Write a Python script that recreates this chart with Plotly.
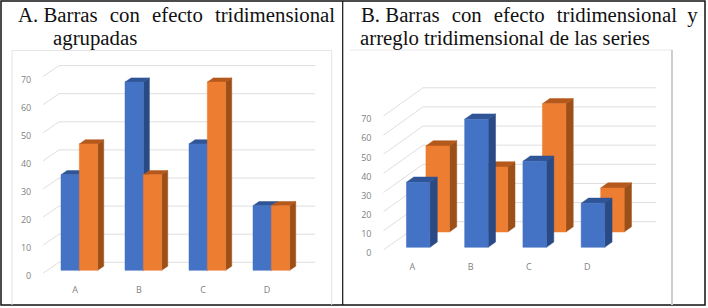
import plotly.graph_objects as go

W, H = 708, 308

categories = ["A", "B", "C", "D"]
ticks = [0, 10, 20, 30, 40, 50, 60, 70]
serie1 = [34, 67, 45, 23]
serie2 = [45, 34, 67, 23]

BLUE = ("#4472C4", "#2F5597", "#2A4A85")
ORANGE = ("#ED7D31", "#B4581C", "#9C5018")
GRID = "#DEDEDE"
TICKC = "#7F7F7F"

fig = go.Figure()


def polygons(vals, cat_off, width, d0, d1, dxc, dyv):
    """Front, top and side faces, in axis units, of one series of oblique bars."""
    fx, fy, tx, ty, sx, sy = [], [], [], [], [], []
    for i, v in enumerate(vals):
        l = i + cat_off
        r = l + width
        p = lambda x, d, h: (x + d * dxc, h + d * dyv)
        for xs, ys, pts in (
            (fx, fy, [p(l, d0, 0), p(r, d0, 0), p(r, d0, v), p(l, d0, v)]),
            (tx, ty, [p(l, d0, v), p(r, d0, v), p(r, d1, v), p(l, d1, v)]),
            (sx, sy, [p(r, d0, 0), p(r, d1, 0), p(r, d1, v), p(r, d0, v)]),
        ):
            for a, b in pts + [pts[0]]:
                xs.append(a)
                ys.append(b)
            xs.append(None)
            ys.append(None)
    return (fx, fy), (tx, ty), (sx, sy)


def add_bars(ax, vals, colors, **kw):
    faces = polygons(vals, **kw)
    for (xs, ys), c in zip((faces[2], faces[1], faces[0]), (colors[2], colors[1], colors[0])):
        fig.add_trace(go.Scatter(x=xs, y=ys, mode="lines", fill="toself", fillcolor=c,
                                 line=dict(width=0.5, color=c), hoverinfo="skip",
                                 showlegend=False, cliponaxis=False,
                                 xaxis="x" + ax, yaxis="y" + ax))


def add_grid(ax, dxc, dyv, n):
    xs, ys = [], []
    for t in ticks:
        xs += [-0.5, -0.5 + dxc, n - 0.5 + dxc, None]
        ys += [t, t + dyv, t + dyv, None]
    fig.add_trace(go.Scatter(x=xs, y=ys, mode="lines", line=dict(width=1, color=GRID),
                             hoverinfo="skip", showlegend=False, cliponaxis=False,
                             xaxis="x" + ax, yaxis="y" + ax))


def axes(ax, left, right, bottom, top, xrange, yrange, ylen, xlen):
    font = dict(family="Open Sans, Liberation Sans", size=9, color=TICKC)
    fig.layout["xaxis" + ax] = dict(
        domain=[left / W, right / W], range=xrange, tickvals=list(range(len(categories))),
        ticktext=categories, showgrid=False, zeroline=False, showline=False, ticks="outside",
        tickcolor="rgba(0,0,0,0)", ticklen=xlen, tickfont=font, anchor="y" + ax, automargin=False)
    fig.layout["yaxis" + ax] = dict(
        domain=[1 - bottom / H, 1 - top / H], range=yrange, tickvals=ticks, showgrid=False,
        zeroline=False, showline=False, ticks="outside", tickcolor="rgba(0,0,0,0)",
        ticklen=ylen, tickfont=font, anchor="x" + ax, automargin=False, ticklabelshift=3)


# Panel A ---------------------------------------------------------------
a_ppu, a_slot = 2.81, 64
a_dxc, a_dyv = 16 / a_slot, 11 / a_ppu
a_top = 60
axes("", 43, 315, 273.3, a_top, [-0.5, 3.5 + a_dxc], [0, (273.3 - a_top) / a_ppu], 9, 8)
add_grid("", a_dxc, a_dyv, len(categories))
bw = 18.33 / a_slot
add_bars("", serie1, BLUE, cat_off=-bw, width=bw, d0=0.27, d1=0.65, dxc=a_dxc, dyv=a_dyv)
add_bars("", serie2, ORANGE, cat_off=0, width=bw, d0=0.27, d1=0.65, dxc=a_dxc, dyv=a_dyv)

# Panel B ---------------------------------------------------------------
b_ppu, b_slot = 1.913, 58.25
b_dxc, b_dyv = 39.7 / b_slot, 28.3 / b_ppu
b_top = 80
axes("2", 383.3, 656, 250, b_top, [-0.5, 3.5 + b_dxc], [0, (250 - b_top) / b_ppu], 9, 8)
add_grid("2", b_dxc, b_dyv, len(categories))
bw2 = 23.5 / b_slot
add_bars("2", serie2, ORANGE, cat_off=-bw2 / 2, width=bw2, d0=0.636, d1=0.82, dxc=b_dxc, dyv=b_dyv)
add_bars("2", serie1, BLUE, cat_off=-bw2 / 2 + 2 / b_slot, width=bw2, d0=0.094, d1=0.28, dxc=b_dxc, dyv=b_dyv)


def rect(x0, y0, x1, y1, color, width):
    fig.add_shape(type="rect", xref="paper", yref="paper", x0=x0 / W, x1=x1 / W,
                  y0=1 - y0 / H, y1=1 - y1 / H, line=dict(color=color, width=width), layer="below")


def vline(x, y0, y1, color, width):
    fig.add_shape(type="line", xref="paper", yref="paper", x0=x / W, x1=x / W,
                  y0=1 - y0 / H, y1=1 - y1 / H, line=dict(color=color, width=width), layer="below")


def hline(x0, x1, y, color, width):
    fig.add_shape(type="line", xref="paper", yref="paper", x0=x0 / W, x1=x1 / W,
                  y0=1 - y / H, y1=1 - y / H, line=dict(color=color, width=width), layer="below")


rect(1, 1, 705, 305, "#111111", 1.5)
vline(342.7, 1, 305, "#111111", 1.2)
vline(12, 50.5, 305, "#E4E4E4", 1)
vline(331.7, 50.5, 305, "#E4E4E4", 1)
hline(12, 331.7, 50.5, "#E4E4E4", 1)
hline(350, 672, 50, "#E8E8E8", 1)
vline(672, 50, 305, "#CDCDCD", 2)


def title(text, x, y):
    fig.add_annotation(text=text, xref="paper", yref="paper", x=x / W, y=1 - y / H,
                       xanchor="left", yanchor="middle", showarrow=False,
                       font=dict(family="Liberation Serif", size=20.8, color="#111111"))


S = "\u00a0"
G = S * 2 + "\u200a"
title(f"A.{S}Barras{G}con{G}efecto{G}tridimensional", 16, 15)
title("agrupadas", 50.5, 38)
title(f"B.{S}Barras{G}con{G}efecto{G}tridimensional{S*2}y", 358.5, 15)
title("arreglo tridimensional de las series", 358, 38)

fig.update_layout(width=W, height=H, margin=dict(l=0, r=0, t=0, b=0), autosize=False,
                  paper_bgcolor="white", plot_bgcolor="rgba(0,0,0,0)", showlegend=False)
fig.write_html("out.html", config={"displayModeBar": False},
               post_script="document.body.style.margin='0';document.body.style.overflow='hidden';")
